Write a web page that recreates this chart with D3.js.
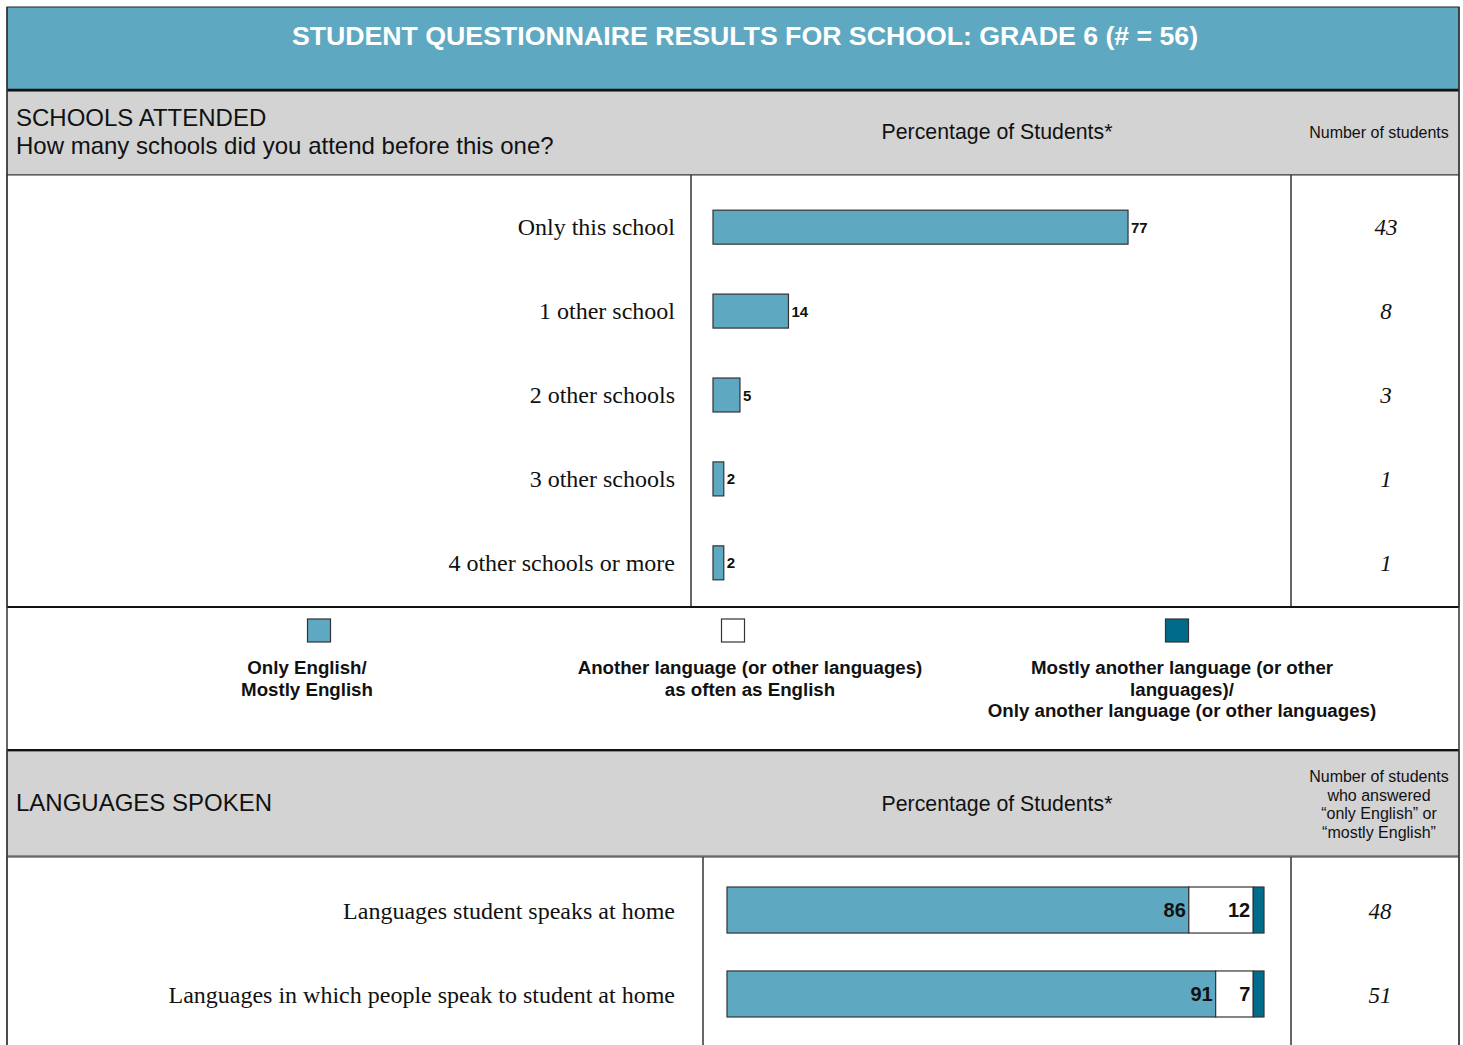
<!DOCTYPE html>
<html>
<head>
<meta charset="utf-8">
<script src="https://cdn.jsdelivr.net/npm/d3@7/dist/d3.min.js"></script>
<style>
  html, body { margin: 0; padding: 0; background: #fff; }
  svg { display: block; }
</style>
</head>
<body>
<svg id="chart" width="1463" height="1045"></svg>
<script>
// Schools attended
const schoolCategories = ["Only this school", "1 other school", "2 other schools", "3 other schools", "4 other schools or more"];
const schoolPercents = [77, 14, 5, 2, 2];
const schoolCounts = [43, 8, 3, 1, 1];

// Languages spoken (stacked percentages)
const languageCategories = ["Languages student speaks at home", "Languages in which people speak to student at home"];
const onlyEnglish = [86, 91];
const asOftenAsEnglish = [12, 7];
const mostlyOther = [2, 2];
const englishCounts = [48, 51];

const legendLabels = [
  ["Only English/", "Mostly English"],
  ["Another language (or other languages)", "as often as English"],
  ["Mostly another language (or other", "languages)/", "Only another language (or other languages)"]
];

const LIGHT = "#5ea9c1", DARK = "#006b8a", GRAY = "#d3d3d3", LINE = "#333";
const SANS = "'Liberation Sans', Arial, sans-serif";
const SERIF = "'Liberation Serif', 'Times New Roman', serif";

const svg = d3.select("#chart");
const L = 7, R = 1459;

// Title banner
svg.append("rect").attr("x", L).attr("y", 7).attr("width", R - L).attr("height", 83)
  .attr("fill", LIGHT).attr("stroke", "#222").attr("stroke-width", 1);
svg.append("text").attr("x", 745).attr("y", 45).attr("text-anchor", "middle")
  .attr("font-family", SANS).attr("font-weight", "bold").attr("font-size", 26.7)
  .attr("fill", "#fff").text("STUDENT QUESTIONNAIRE RESULTS FOR SCHOOL: GRADE 6 (# = 56)");

// Section header bands
function header(y0, y1) {
  svg.append("rect").attr("x", L).attr("y", y0).attr("width", R - L).attr("height", y1 - y0)
    .attr("fill", GRAY).attr("stroke", "#444").attr("stroke-width", 1);
}
header(91, 175);
header(751, 856);

svg.append("text").attr("x", 16).attr("y", 126).attr("font-family", SANS).attr("font-size", 24)
  .attr("fill", "#111").text("SCHOOLS ATTENDED");
svg.append("text").attr("x", 16).attr("y", 154).attr("font-family", SANS).attr("font-size", 24)
  .attr("fill", "#111").text("How many schools did you attend before this one?");
svg.append("text").attr("x", 997).attr("y", 139).attr("text-anchor", "middle").attr("font-family", SANS)
  .attr("font-size", 21.3).attr("fill", "#111").text("Percentage of Students*");
svg.append("text").attr("x", 1379).attr("y", 138).attr("text-anchor", "middle").attr("font-family", SANS)
  .attr("font-size", 16).attr("fill", "#111").text("Number of students");

svg.append("text").attr("x", 16).attr("y", 811).attr("font-family", SANS).attr("font-size", 24)
  .attr("fill", "#111").text("LANGUAGES SPOKEN");
svg.append("text").attr("x", 997).attr("y", 811).attr("text-anchor", "middle").attr("font-family", SANS)
  .attr("font-size", 21.3).attr("fill", "#111").text("Percentage of Students*");
["Number of students", "who answered", "\u201Conly English\u201D or", "\u201Cmostly English\u201D"].forEach((t, i) => {
  svg.append("text").attr("x", 1379).attr("y", 782 + i * 18.5).attr("text-anchor", "middle")
    .attr("font-family", SANS).attr("font-size", 16).attr("fill", "#111").text(t);
});

// Section 1 body
svg.append("rect").attr("x", L).attr("y", 175).attr("width", R - L).attr("height", 432)
  .attr("fill", "#fff").attr("stroke", LINE).attr("stroke-width", 1);
svg.append("line").attr("x1", 691).attr("x2", 691).attr("y1", 175).attr("y2", 607).attr("stroke", LINE).attr("stroke-width", 1.5);
svg.append("line").attr("x1", 1291).attr("x2", 1291).attr("y1", 175).attr("y2", 607).attr("stroke", LINE).attr("stroke-width", 1.5);

const x1 = d3.scaleLinear().domain([0, 100]).range([713, 1252]);
const y1 = d3.scaleBand().domain(schoolCategories).range([185, 605]).paddingInner(0.595).paddingOuter(0.3);

const g1 = svg.append("g");
schoolCategories.forEach((c, i) => {
  const y = y1(c), h = y1.bandwidth(), cy = y + h / 2;
  g1.append("rect").attr("x", x1(0)).attr("y", y).attr("width", x1(schoolPercents[i]) - x1(0)).attr("height", h)
    .attr("fill", LIGHT).attr("stroke", "#333").attr("stroke-width", 1.2);
  g1.append("text").attr("x", x1(schoolPercents[i]) + 3).attr("y", cy + 5.5).attr("font-family", SANS)
    .attr("font-weight", "bold").attr("font-size", 15).attr("fill", "#111").text(schoolPercents[i]);
  g1.append("text").attr("x", 675).attr("y", cy + 8).attr("text-anchor", "end").attr("font-family", SERIF)
    .attr("font-size", 24).attr("fill", "#111").text(c);
  g1.append("text").attr("x", 1386).attr("y", cy + 8).attr("text-anchor", "middle").attr("font-family", SERIF)
    .attr("font-style", "italic").attr("font-size", 23).attr("fill", "#111").text(schoolCounts[i]);
});

// Legend
const legendSw = [{x: 319, c: LIGHT}, {x: 733, c: "#fff"}, {x: 1177, c: DARK}];
const legendTx = [307, 750, 1182];
legendSw.forEach((s, i) => {
  svg.append("rect").attr("x", s.x - 11.5).attr("y", 619).attr("width", 23).attr("height", 23)
    .attr("fill", s.c).attr("stroke", "#333").attr("stroke-width", 1.2);
  legendLabels[i].forEach((t, j) => {
    svg.append("text").attr("x", legendTx[i]).attr("y", 674 + j * 21.5).attr("text-anchor", "middle")
      .attr("font-family", SANS).attr("font-weight", "bold").attr("font-size", 18.7).attr("fill", "#111").text(t);
  });
});

// Section 2 body
svg.append("rect").attr("x", L).attr("y", 857).attr("width", R - L).attr("height", 200)
  .attr("fill", "#fff").attr("stroke", LINE).attr("stroke-width", 1);
svg.append("line").attr("x1", 703).attr("x2", 703).attr("y1", 857).attr("y2", 1045).attr("stroke", LINE).attr("stroke-width", 1.5);
svg.append("line").attr("x1", 1291).attr("x2", 1291).attr("y1", 857).attr("y2", 1045).attr("stroke", LINE).attr("stroke-width", 1.5);

const x2 = d3.scaleLinear().domain([0, 100]).range([727, 1264]);
const y2 = d3.scaleBand().domain(languageCategories).range([864, 1040]).paddingInner(0.452).paddingOuter(0.274);

const stackData = languageCategories.map((c, i) => ({cat: c, a: onlyEnglish[i], b: asOftenAsEnglish[i], c2: mostlyOther[i]}));
const stacked = d3.stack().keys(["a", "b", "c2"])(stackData);
const fills = {a: LIGHT, b: "#fff", c2: DARK};

const g2 = svg.append("g");
stacked.forEach(layer => {
  layer.forEach((seg, i) => {
    const y = y2(languageCategories[i]), h = y2.bandwidth();
    g2.append("rect").attr("x", x2(seg[0])).attr("y", y).attr("width", x2(seg[1]) - x2(seg[0])).attr("height", h)
      .attr("fill", fills[layer.key]).attr("stroke", "#333").attr("stroke-width", 1.2);
    if (layer.key !== "c2") {
      g2.append("text").attr("x", x2(seg[1]) - 3).attr("y", y + h / 2 + 7).attr("text-anchor", "end")
        .attr("font-family", SANS).attr("font-weight", "bold").attr("font-size", 20).attr("fill", "#111")
        .text(seg[1] - seg[0]);
    }
  });
});
languageCategories.forEach((c, i) => {
  const cy = y2(c) + y2.bandwidth() / 2;
  g2.append("text").attr("x", 675).attr("y", cy + 9).attr("text-anchor", "end").attr("font-family", SERIF)
    .attr("font-size", 24).attr("fill", "#111").text(c);
  g2.append("text").attr("x", 1380).attr("y", cy + 9).attr("text-anchor", "middle").attr("font-family", SERIF)
    .attr("font-style", "italic").attr("font-size", 23).attr("fill", "#111").text(englishCounts[i]);
});

// Heavy separators
[[90, 2.5], [607, 2], [750, 2]].forEach(([y, w]) => {
  svg.append("line").attr("x1", L).attr("x2", R).attr("y1", y).attr("y2", y).attr("stroke", "#111").attr("stroke-width", w);
});
svg.append("line").attr("x1", L).attr("x2", L).attr("y1", 7).attr("y2", 1045).attr("stroke", "#333").attr("stroke-width", 1.5);
svg.append("line").attr("x1", R).attr("x2", R).attr("y1", 7).attr("y2", 1045).attr("stroke", "#333").attr("stroke-width", 1.5);
</script>
</body>
</html>
